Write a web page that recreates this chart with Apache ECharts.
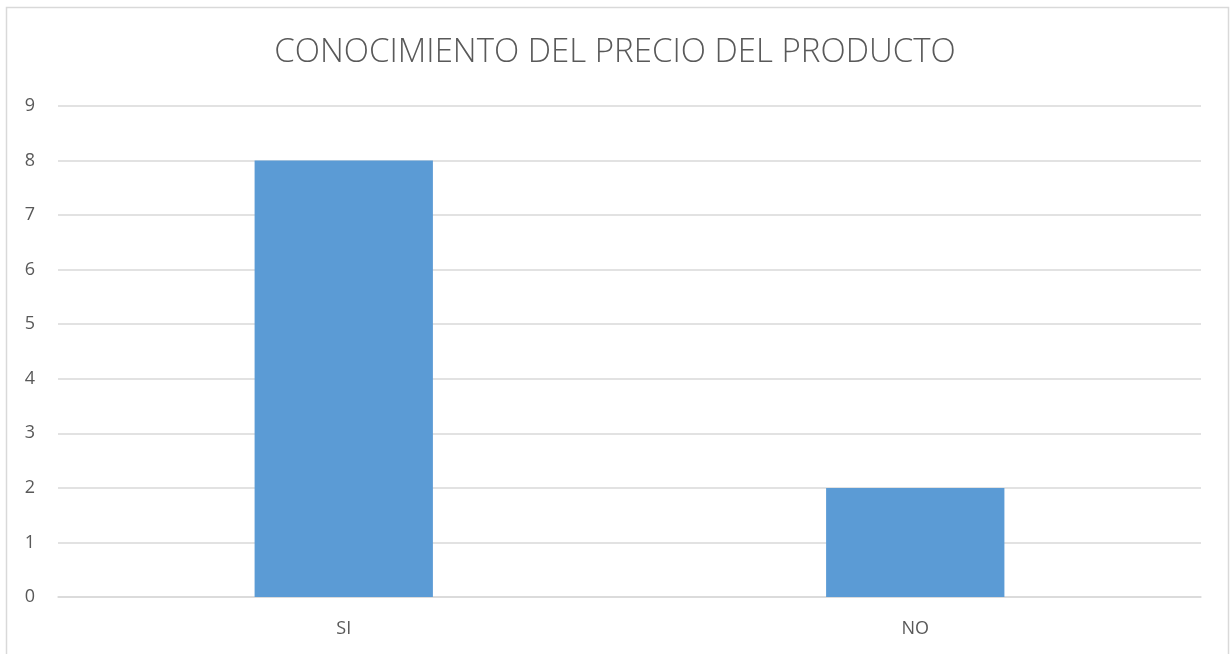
<!DOCTYPE html>
<html>
<head>
<meta charset="utf-8">
<script src="https://cdn.jsdelivr.net/npm/echarts@6/dist/echarts.min.js"></script>
<style>
html,body{margin:0;padding:0;background:#fff;}
#c{width:1230px;height:654px;}
</style>
</head>
<body>
<div id="c"></div>
<script>
const title = 'CONOCIMIENTO DEL PRECIO DEL PRODUCTO';
const categories = ['SI', 'NO'];
const values = [8, 2];
const yTicks = [0, 1, 2, 3, 4, 5, 6, 7, 8, 9];

const chart = echarts.init(document.getElementById('c'));
chart.setOption({
  animation: false,
  backgroundColor: '#fff',
  title: {
    text: title,
    left: 'center',
    top: 31,
    textStyle: {fontFamily: 'Open Sans', fontWeight: 300, fontSize: 33, color: '#595959'}
  },
  graphic: [{
    type: 'rect',
    shape: {x: 6.5, y: 7.5, width: 1222, height: 680},
    style: {fill: 'none', stroke: '#d9d9d9', lineWidth: 1.5},
    silent: true
  }],
  grid: {left: 58, right: 29, top: 106, bottom: 57, containLabel: false},
  xAxis: {
    type: 'category',
    data: categories,
    axisLine: {lineStyle: {color: '#d9d9d9', width: 1.5}},
    axisTick: {show: false},
    axisLabel: {fontFamily: 'Open Sans', fontSize: 18, color: '#595959', margin: 23}
  },
  yAxis: {
    type: 'value',
    min: yTicks[0],
    max: yTicks[yTicks.length - 1],
    interval: 1,
    axisLine: {show: false},
    axisTick: {show: false},
    splitLine: {lineStyle: {color: '#d9d9d9', width: 1.5}},
    axisLabel: {fontFamily: 'Open Sans', fontSize: 18, color: '#595959', margin: 28, align: 'center'}
  },
  series: [{
    type: 'bar',
    data: values,
    barWidth: '31.2%',
    itemStyle: {color: '#5b9bd5'}
  }]
});
</script>
</body>
</html>
